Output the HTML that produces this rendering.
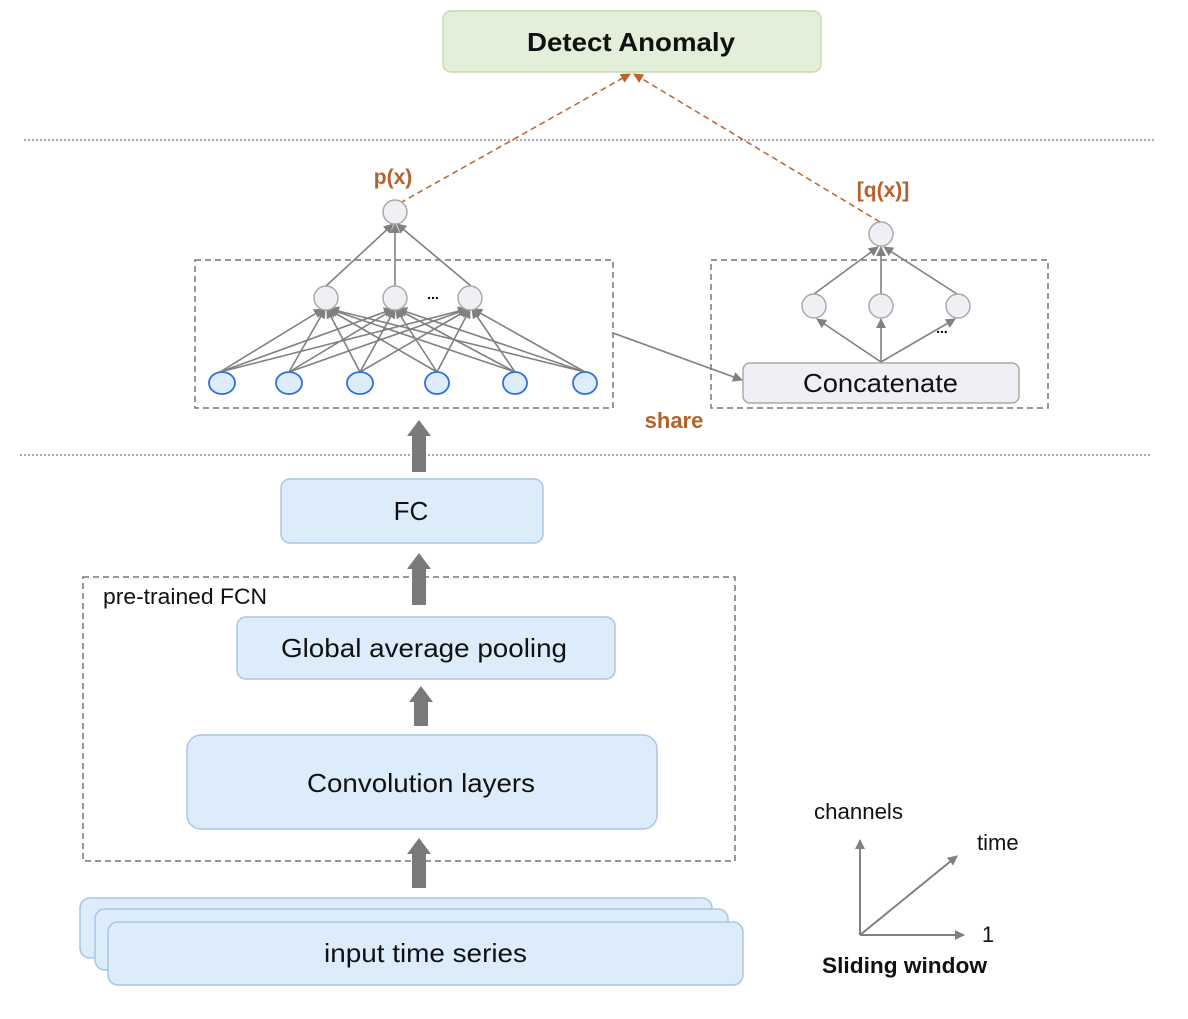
<!DOCTYPE html>
<html><head><meta charset="utf-8"><style>
html,body{margin:0;padding:0;background:#fff;}
svg text{font-family:"Liberation Sans","DejaVu Sans",sans-serif;}
</style></head><body>
<svg width="1188" height="1014" viewBox="0 0 1188 1014" xmlns="http://www.w3.org/2000/svg">
<defs>
<marker id="ag" markerWidth="10" markerHeight="10" refX="9" refY="5" orient="auto" markerUnits="userSpaceOnUse"><path d="M0,0 L10,5 L0,10 z" fill="#808080"/></marker>
<marker id="ao" markerWidth="10" markerHeight="10" refX="9" refY="5" orient="auto" markerUnits="userSpaceOnUse"><path d="M0,0 L10,5 L0,10 z" fill="#c0622a"/></marker>
</defs>
<rect x="443" y="11" width="378" height="61" rx="8" fill="#e4efda" stroke="#c4dcb0" stroke-width="1.5"/>
<text x="527" y="51" font-size="26" font-weight="bold" fill="#111" textLength="208" lengthAdjust="spacingAndGlyphs">Detect Anomaly</text>
<line x1="24" y1="140" x2="1156" y2="140" stroke="#777" stroke-width="1.2" stroke-dasharray="2,2"/>
<line x1="20" y1="455" x2="1152" y2="455" stroke="#777" stroke-width="1.2" stroke-dasharray="2,2"/>
<line x1="400" y1="203" x2="630" y2="74" stroke="#c0622a" stroke-width="1.5" stroke-dasharray="6,4" marker-end="url(#ao)"/>
<line x1="880" y1="222" x2="634" y2="74" stroke="#c0622a" stroke-width="1.5" stroke-dasharray="6,4" marker-end="url(#ao)"/>
<text x="393" y="184" font-size="21" font-weight="bold" fill="#b5612b" text-anchor="middle">p(x)</text>
<text x="883" y="197" font-size="21" font-weight="bold" fill="#b5612b" text-anchor="middle">[q(x)]</text>
<rect x="195" y="260" width="418" height="148" fill="none" stroke="#777" stroke-width="1.5" stroke-dasharray="6,4"/>
<g stroke="#808080" stroke-width="1.6" fill="none">
<line x1="326" y1="286" x2="393" y2="224" marker-end="url(#ag)"/>
<line x1="395" y1="286" x2="395" y2="224" marker-end="url(#ag)"/>
<line x1="471" y1="286" x2="397" y2="224" marker-end="url(#ag)"/>
<g marker-end="url(#ag)">
<line x1="220" y1="372" x2="323" y2="309"/><line x1="220" y1="372" x2="393" y2="309"/><line x1="220" y1="372" x2="467" y2="309"/>
<line x1="289" y1="372" x2="325" y2="309"/><line x1="289" y1="372" x2="394" y2="309"/><line x1="289" y1="372" x2="468" y2="309"/>
<line x1="360" y1="372" x2="327" y2="309"/><line x1="360" y1="372" x2="395" y2="309"/><line x1="360" y1="372" x2="469" y2="309"/>
<line x1="437" y1="372" x2="328" y2="309"/><line x1="437" y1="372" x2="396" y2="309"/><line x1="437" y1="372" x2="470" y2="309"/>
<line x1="515" y1="372" x2="329" y2="309"/><line x1="515" y1="372" x2="397" y2="309"/><line x1="515" y1="372" x2="472" y2="309"/>
<line x1="585" y1="372" x2="330" y2="309"/><line x1="585" y1="372" x2="398" y2="309"/><line x1="585" y1="372" x2="473" y2="309"/>
</g>
</g>
<g fill="#f0eff5" stroke="#aaa" stroke-width="1.5">
<circle cx="395" cy="212" r="12"/>
<circle cx="326" cy="298" r="12"/><circle cx="395" cy="298" r="12"/><circle cx="470" cy="298" r="12"/>
</g>
<text x="433" y="299" font-size="14" font-weight="bold" text-anchor="middle">...</text>
<g fill="#ddedfb" stroke="#2f6fe0" stroke-width="1.8">
<ellipse cx="222" cy="383" rx="13" ry="11"/><ellipse cx="289" cy="383" rx="13" ry="11"/><ellipse cx="360" cy="383" rx="13" ry="11"/>
<ellipse cx="437" cy="383" rx="12" ry="11"/><ellipse cx="515" cy="383" rx="12" ry="11"/><ellipse cx="585" cy="383" rx="12" ry="11"/>
</g>
<line x1="613" y1="333" x2="742" y2="380" stroke="#808080" stroke-width="1.6" marker-end="url(#ag)"/>
<text x="674" y="428" font-size="22" font-weight="bold" fill="#b5612b" text-anchor="middle">share</text>
<rect x="711" y="260" width="337" height="148" fill="none" stroke="#777" stroke-width="1.5" stroke-dasharray="6,4"/>
<g stroke="#808080" stroke-width="1.6" marker-end="url(#ag)">
<line x1="814" y1="294" x2="878" y2="247"/>
<line x1="881" y1="294" x2="881" y2="247"/>
<line x1="957" y1="294" x2="884" y2="247"/>
<line x1="881" y1="362" x2="817" y2="319"/>
<line x1="881" y1="362" x2="881" y2="319"/>
<line x1="881" y1="362" x2="955" y2="319"/>
</g>
<g fill="#f0eff5" stroke="#aaa" stroke-width="1.5">
<circle cx="881" cy="234" r="12"/>
<circle cx="814" cy="306" r="12"/><circle cx="881" cy="306" r="12"/><circle cx="958" cy="306" r="12"/>
</g>
<text x="942" y="333" font-size="14" font-weight="bold" text-anchor="middle">...</text>
<rect x="743" y="363" width="276" height="40" rx="7" fill="#f0eff5" stroke="#aaa" stroke-width="1.5"/>
<text x="803" y="392" font-size="26" fill="#111" textLength="155" lengthAdjust="spacingAndGlyphs">Concatenate</text>
<g fill="#7a7a7a">
<path d="M412,472 V436 H407 L419,420 L431,436 H426 V472 z"/>
<path d="M412,605 V569 H407 L419,553 L431,569 H426 V605 z"/>
<path d="M414,726 V702 H409 L421,686 L433,702 H428 V726 z"/>
<path d="M412,888 V854 H407 L419,838 L431,854 H426 V888 z"/>
</g>
<rect x="281" y="479" width="262" height="64" rx="9" fill="#ddecfb" stroke="#a9c6e6" stroke-width="1.5"/>
<text x="411" y="520" font-size="26" text-anchor="middle" fill="#111">FC</text>
<rect x="83" y="577" width="652" height="284" fill="none" stroke="#777" stroke-width="1.5" stroke-dasharray="6,4"/>
<text x="103" y="604" font-size="22" fill="#111" textLength="164" lengthAdjust="spacingAndGlyphs">pre-trained FCN</text>
<rect x="237" y="617" width="378" height="62" rx="9" fill="#ddecfb" stroke="#a9c6e6" stroke-width="1.5"/>
<text x="281" y="657" font-size="26" fill="#111" textLength="286" lengthAdjust="spacingAndGlyphs">Global average pooling</text>
<rect x="187" y="735" width="470" height="94" rx="14" fill="#ddecfb" stroke="#a9c6e6" stroke-width="1.5"/>
<text x="307" y="792" font-size="26" fill="#111" textLength="228" lengthAdjust="spacingAndGlyphs">Convolution layers</text>
<rect x="80" y="898" width="632" height="60" rx="10" fill="#ddecfb" stroke="#a9c6e6" stroke-width="1.5"/>
<rect x="95" y="909" width="633" height="61" rx="10" fill="#ddecfb" stroke="#a9c6e6" stroke-width="1.5"/>
<rect x="108" y="922" width="635" height="63" rx="10" fill="#ddecfb" stroke="#a9c6e6" stroke-width="1.5"/>
<text x="324" y="962" font-size="26" fill="#111" textLength="203" lengthAdjust="spacingAndGlyphs">input time series</text>
<g stroke="#808080" stroke-width="2" marker-end="url(#ag)">
<line x1="860" y1="935" x2="860" y2="840"/>
<line x1="860" y1="935" x2="964" y2="935"/>
<line x1="860" y1="935" x2="957" y2="856"/>
</g>
<text x="814" y="819" font-size="22" fill="#111" textLength="89" lengthAdjust="spacingAndGlyphs">channels</text>
<text x="977" y="850" font-size="22" fill="#111">time</text>
<text x="988" y="942" font-size="22" text-anchor="middle" fill="#111">1</text>
<text x="822" y="973" font-size="22" font-weight="bold" fill="#111" textLength="165" lengthAdjust="spacingAndGlyphs">Sliding window</text>
</svg>
</body></html>
